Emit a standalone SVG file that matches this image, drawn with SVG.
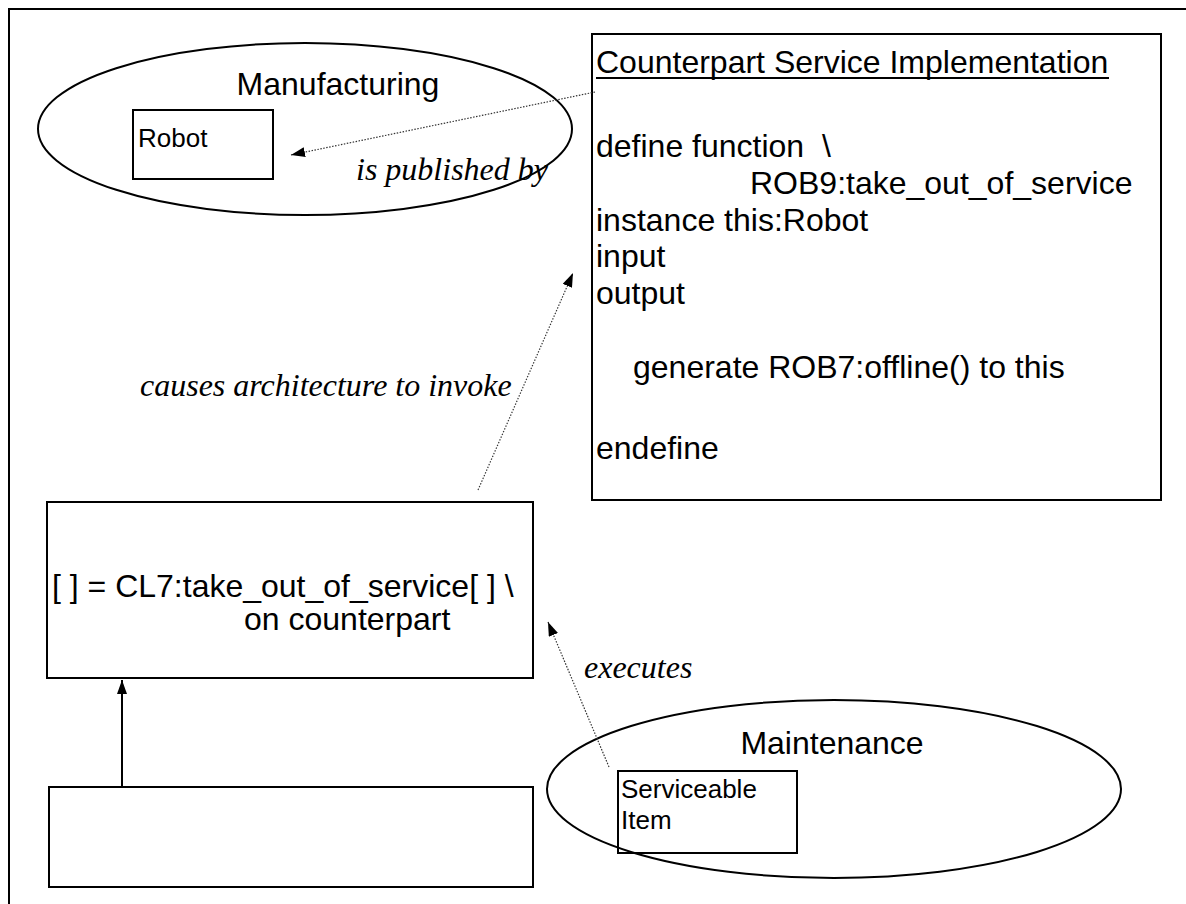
<svg xmlns="http://www.w3.org/2000/svg" width="1186" height="904" viewBox="0 0 1186 904">
<style>
.frame{fill:none;stroke:#000;stroke-width:2}
.box{fill:#fff;stroke:#000;stroke-width:2}
.ell{fill:none;stroke:#000;stroke-width:2}
.t{font-family:"Liberation Sans",Arial,sans-serif;font-size:32px;fill:#000}
.s{font-family:"Liberation Sans",Arial,sans-serif;font-size:26px;fill:#000}
.lab{font-family:"Liberation Serif","Times New Roman",serif;font-style:italic;font-size:32px;fill:#000}
.dot{fill:none;stroke:#333;stroke-width:1.2;stroke-dasharray:1.5 1.5}
.solid{fill:none;stroke:#000;stroke-width:2}
</style>
<defs>
<marker id="ah" viewBox="0 0 14 10" refX="14" refY="5" markerWidth="14" markerHeight="10" markerUnits="userSpaceOnUse" orient="auto">
<path d="M0,0 L14,5 L0,10 Z" fill="#000"/>
</marker>
</defs>
<rect width="1186" height="904" fill="#fff"/>
<path class="frame" d="M9,904 V9 H1186"/>

<g id="manufacturing">
<ellipse class="ell" cx="305" cy="129" rx="267" ry="86"/>
<text class="t" x="338" y="95" text-anchor="middle">Manufacturing</text>
</g>
<g id="robot">
<rect class="box" x="133" y="110" width="140" height="69"/>
<text class="s" x="138" y="147">Robot</text>
</g>

<g id="counterpart">
<rect class="box" x="592" y="34" width="569" height="466"/>
<text class="t" x="596" y="73">Counterpart Service Implementation</text>
<line x1="596" y1="78" x2="1109" y2="78" stroke="#000" stroke-width="2"/>
<text class="t" x="596" y="157" xml:space="preserve">define function  \</text>
<text class="t" x="750" y="194">ROB9:take_out_of_service</text>
<text class="t" x="596" y="231">instance this:Robot</text>
<text class="t" x="596" y="267">input</text>
<text class="t" x="596" y="304">output</text>
<text class="t" x="633" y="378">generate ROB7:offline() to this</text>
<text class="t" x="596" y="459">endefine</text>
</g>

<g id="call">
<rect class="box" x="47" y="502" width="486" height="176"/>
<text class="t" x="52" y="597">[ ] = CL7:take_out_of_service[ ] \</text>
<text class="t" x="244" y="630">on counterpart</text>
</g>

<g id="bottom">
<rect class="box" x="49" y="787" width="484" height="100"/>
</g>

<g id="maintenance">
<ellipse class="ell" cx="834" cy="789" rx="287" ry="89"/>
<text class="t" x="832" y="754" text-anchor="middle">Maintenance</text>
</g>
<g id="serviceable">
<rect class="box" x="618" y="771" width="179" height="82" style="fill:none"/>
<text class="s" x="621" y="798">Serviceable</text>
<text class="s" x="621" y="829">Item</text>
</g>

<g id="connectors">
<line class="dot" x1="595" y1="92" x2="291" y2="155" marker-end="url(#ah)"/>
<line class="dot" x1="478" y1="490" x2="573" y2="273" marker-end="url(#ah)"/>
<line class="dot" x1="609" y1="767" x2="548" y2="622" marker-end="url(#ah)"/>
<line class="solid" x1="122" y1="787" x2="122" y2="680" marker-end="url(#ah)"/>
<text class="lab" x="356" y="180">is published by</text>
<text class="lab" x="140" y="396">causes architecture to invoke</text>
<text class="lab" x="584" y="678">executes</text>
</g>
</svg>
